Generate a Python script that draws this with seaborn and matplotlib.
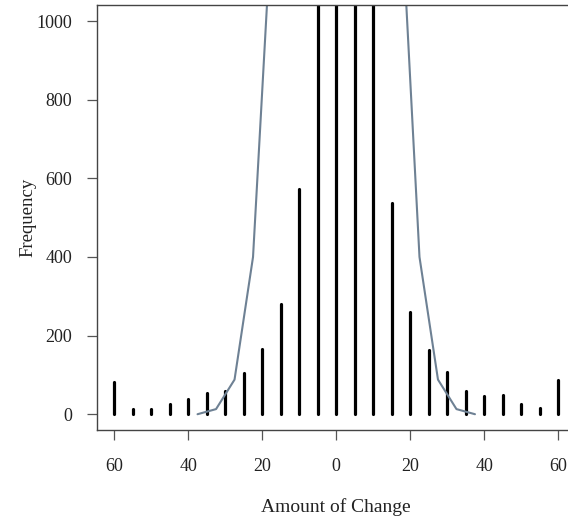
import numpy as np
import matplotlib
matplotlib.use("Agg")
import matplotlib.pyplot as plt
import seaborn as sns
import pandas as pd

# bar heights at each amount of change (centre ones run off the top)
change = [-60, -55, -50, -45, -40, -35, -30, -25, -20, -15, -10, -5, 0,
          5, 10, 15, 20, 25, 30, 35, 40, 45, 50, 55, 60]
freq = [82, 12, 14, 25, 38, 53, 59, 104, 165, 280, 572, 1500, 2200,
        1700, 1300, 536, 260, 163, 108, 58, 47, 48, 27, 17, 88]

# fitted curve, midpoints
curve_x = [-37.5, -32.5, -27.5, -22.5, -17.5, -12.5, 12.5, 17.5, 22.5, 27.5, 32.5, 37.5]
curve_y = [0, 13, 88, 400, 1250, 2600, 2600, 1300, 400, 88, 13, 0]

xticks = [-60, -40, -20, 0, 20, 40, 60]
xlabels = ["60", "40", "20", "0", "20", "40", "60"]
yticks = [0, 200, 400, 600, 800, 1000]

sns.set_style("white")
plt.rcParams["font.family"] = ["Liberation Serif", "DejaVu Serif"]

fig = plt.figure(figsize=(5.68, 5.18), dpi=100)
ax = fig.add_axes([0.170, 0.170, 0.844, 0.8197])

bars = ax.vlines(change, 0, freq, colors="black", linewidth=2.3)
bars.set_capstyle("round")

curve = pd.DataFrame({"x": curve_x, "y": curve_y})
sns.lineplot(data=curve, x="x", y="y", color="#6e8194", linewidth=1.5, ax=ax, sort=False)

ax.set_xlim(-64.8, 64.8)
ax.set_ylim(-40, 1040)

ax.set_xticks(xticks)
ax.set_xticklabels(xlabels)
ax.set_yticks(yticks)
ax.set_yticklabels([str(v) for v in yticks])
ax.tick_params(axis="both", direction="out", length=7.5, width=0.9,
               color="#555555", labelcolor="#222222", labelsize=13,
               bottom=True, left=True)
ax.tick_params(axis="x", pad=13)
ax.tick_params(axis="y", pad=10)

for s in ax.spines.values():
    s.set_visible(True)
    s.set_color("#444444")
    s.set_linewidth(1.0)

ax.set_xlabel("Amount of Change", fontsize=14, labelpad=16, color="#222222")
ax.set_ylabel("Frequency", fontsize=13.5, labelpad=0, color="#222222")

fig.savefig("out.png", dpi=100)
